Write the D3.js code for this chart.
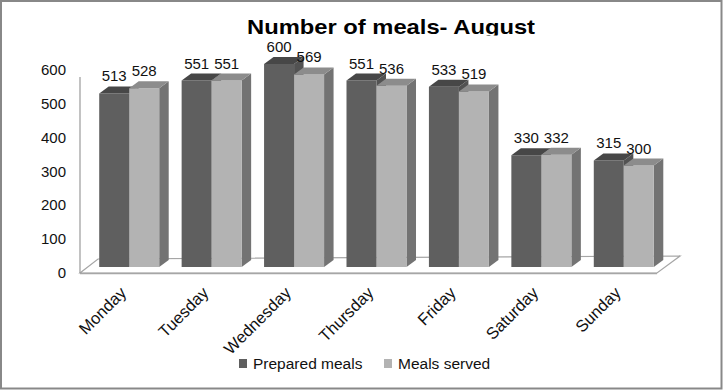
<!DOCTYPE html>
<html>
<head>
<meta charset="utf-8">
<script src="https://cdn.jsdelivr.net/npm/d3@7"></script>
<style>
  body { margin: 0; background: #fff; }
  svg text { font-family: "Liberation Sans", Arial, sans-serif; fill: #111; }
</style>
</head>
<body>
<svg id="chart" width="723" height="390"></svg>
<script>
// data
var days = ["Monday", "Tuesday", "Wednesday", "Thursday", "Friday", "Saturday", "Sunday"];
var prepared = [513, 551, 600, 551, 533, 330, 315];
var served = [528, 551, 569, 536, 519, 332, 300];
var seriesNames = ["Prepared meals", "Meals served"];
var yTicks = [0, 100, 200, 300, 400, 500, 600];

// shades for front / top / side of each series
var colors = [
    {front: "#5f5f5f", top: "#474747", side: "#525252"},
    {front: "#b3b3b3", top: "#8c8c8c", side: "#737373"}
];

var width = 723, height = 390;
var svg = d3.select("#chart");

// outer frame
svg.append("rect")
    .attr("x", 1).attr("y", 1)
    .attr("width", width - 2.5).attr("height", height - 2.5)
    .attr("fill", "#fff")
    .attr("stroke", "#888")
    .attr("stroke-width", 2);

// title, bottom is cut off by the plot area like in the original
svg.append("clipPath").attr("id", "titleClip")
    .append("rect").attr("x", 0).attr("y", 0).attr("width", width).attr("height", 35.5);

svg.append("text")
    .attr("clip-path", "url(#titleClip)")
    .attr("x", 247).attr("y", 33.5)
    .attr("textLength", 288)
    .attr("lengthAdjust", "spacingAndGlyphs")
    .style("font-size", "20.5px")
    .style("font-weight", "bold")
    .style("fill", "#000")
    .text("Number of meals- August");

// scales (front plane of the floor)
var x0 = d3.scaleBand()
    .domain(days)
    .range([80, 657])
    .paddingInner(0.272)
    .paddingOuter(0.136);

var x1 = d3.scaleBand()
    .domain([0, 1])
    .range([0, x0.bandwidth()]);

var y = d3.scaleLinear()
    .domain([0, 600])
    .range([273, 70]);

// 3d offsets
var floorDepthL = [18, -14], floorDepthR = [23, -17];
var barShift = [8, -6];   // bars sit a bit back from the front edge
var barDepth = [9.5, -7];

// floor
var fx0 = x0.range()[0], fx1 = x0.range()[1], fy = y(0);
svg.append("path")
    .attr("d", "M" + fx0 + "," + fy +
        "L" + fx1 + "," + fy +
        "L" + (fx1 + floorDepthR[0]) + "," + (fy + floorDepthR[1]) +
        "L" + (fx0 + floorDepthL[0]) + "," + (fy + floorDepthL[1]) + "Z")
    .attr("fill", "#fff")
    .attr("stroke", "#a6a6a6")
    .attr("stroke-width", 1.2);

svg.append("line")
    .attr("x1", fx0).attr("x2", fx1)
    .attr("y1", fy + 0.5).attr("y2", fy + 0.5)
    .attr("stroke", "#a6a6a6")
    .attr("stroke-width", 1.5);

// left wall edge
svg.append("line")
    .attr("x1", fx0).attr("x2", fx0)
    .attr("y1", y(600) + 7).attr("y2", fy)
    .attr("stroke", "#9a9a9a")
    .attr("stroke-width", 1.2);

// y tick labels
svg.append("g").selectAll("text")
    .data(yTicks)
    .enter().append("text")
    .attr("x", 66)
    .attr("y", function(d) { return y(d) + 5; })
    .attr("text-anchor", "end")
    .style("font-size", "15px")
    .text(function(d) { return d; });

// bars
var rows = days.map(function(d, i) { return {day: d, values: [prepared[i], served[i]]}; });

function barFaces(x, w, yTop, yBot) {
    var dx = barDepth[0], dy = barDepth[1];
    return {
        front: "M" + x + "," + yTop + "h" + w + "V" + yBot + "h" + (-w) + "Z",
        top: "M" + x + "," + yTop + "l" + dx + "," + dy + "h" + w + "l" + (-dx) + "," + (-dy) + "Z",
        side: "M" + (x + w) + "," + yTop + "l" + dx + "," + dy + "V" + (yBot + dy) + "l" + (-dx) + "," + (-dy) + "Z"
    };
}

var groups = svg.append("g").selectAll("g")
    .data(rows)
    .enter().append("g");

groups.each(function(row) {
    var g = d3.select(this);
    row.values.forEach(function(v, s) {
        var bx = x0(row.day) + x1(s) + barShift[0];
        var bw = x1.bandwidth();
        var yTop = y(v) + barShift[1];
        var yBot = y(0) + barShift[1];
        var f = barFaces(bx, bw, yTop, yBot);
        g.append("path").attr("d", f.side).attr("fill", colors[s].side);
        g.append("path").attr("d", f.front).attr("fill", colors[s].front);
        g.append("path").attr("d", f.top).attr("fill", colors[s].top);
    });
});

// value labels
groups.each(function(row) {
    var g = d3.select(this);
    row.values.forEach(function(v, s) {
        g.append("text")
            .attr("x", x0(row.day) + x1(s) + x1.bandwidth() / 2 + barShift[0])
            .attr("y", y(v) + barShift[1] - 12)
            .attr("text-anchor", "middle")
            .style("font-size", "15px")
            .text(v);
    });
});

// category labels, rotated
svg.append("g").selectAll("text")
    .data(days)
    .enter().append("text")
    .attr("text-anchor", "end")
    .attr("transform", function(d) {
        var cx = x0(d) + x0.bandwidth() / 2 + 6;
        return "translate(" + cx + ",294) rotate(-45)";
    })
    .style("font-size", "16.5px")
    .text(function(d) { return d; });

// legend
var legend = svg.append("g").selectAll("g")
    .data(seriesNames)
    .enter().append("g")
    .attr("transform", function(d, i) { return "translate(" + (239 + i * 145) + ",359)"; });

legend.append("rect")
    .attr("width", 8).attr("height", 9)
    .attr("fill", function(d, i) { return colors[i].front; });

legend.append("text")
    .attr("x", 14).attr("y", 9.5)
    .style("font-size", "15.5px")
    .text(function(d) { return d; });
</script>
</body>
</html>
